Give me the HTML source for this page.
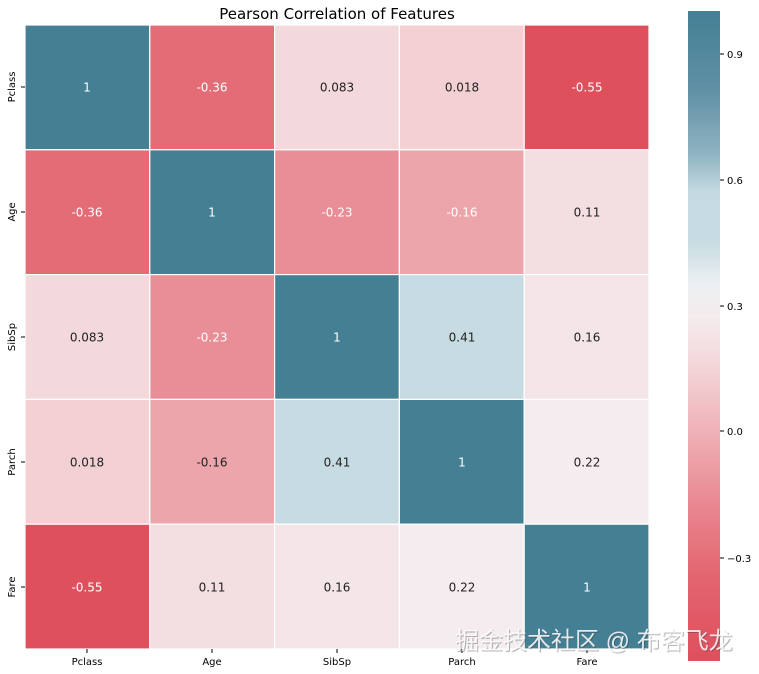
<!DOCTYPE html>
<html><head><meta charset="utf-8"><style>
html,body{margin:0;padding:0;background:#fff;}
svg{display:block;font-family:"DejaVu Sans","Liberation Sans",sans-serif;}
</style></head><body>
<svg width="759" height="674" viewBox="0 0 759 674" xmlns="http://www.w3.org/2000/svg">
<defs>
<linearGradient id="cb" x1="0" y1="1" x2="0" y2="0">
<stop offset="0" stop-color="#df4f5d"/>
<stop offset="0.13" stop-color="#e3656f"/>
<stop offset="0.25" stop-color="#e98a93"/>
<stop offset="0.35" stop-color="#eeb0b6"/>
<stop offset="0.45" stop-color="#f3d5d8"/>
<stop offset="0.53" stop-color="#f4eced"/>
<stop offset="0.58" stop-color="#ecf0f2"/>
<stop offset="0.65" stop-color="#c5dae1"/>
<stop offset="0.72" stop-color="#c5dae1"/>
<stop offset="0.78" stop-color="#8fb3c2"/>
<stop offset="0.88" stop-color="#5f90a4"/>
<stop offset="1" stop-color="#447f95"/>
</linearGradient>
</defs>
<text x="337" y="19" font-size="15" text-anchor="middle" fill="#000">Pearson Correlation of Features</text>
<g stroke="#fff" stroke-width="1.2">
<rect x="25" y="25" width="124.8" height="124.8" fill="#457f94"/>
<rect x="149.8" y="25" width="124.8" height="124.8" fill="#e36c77"/>
<rect x="274.6" y="25" width="124.8" height="124.8" fill="#f4d9dc"/>
<rect x="399.4" y="25" width="124.8" height="124.8" fill="#f2d0d3"/>
<rect x="524.2" y="25" width="124.8" height="124.8" fill="#df505d"/>
<rect x="25" y="149.8" width="124.8" height="124.8" fill="#e36c77"/>
<rect x="149.8" y="149.8" width="124.8" height="124.8" fill="#457f94"/>
<rect x="274.6" y="149.8" width="124.8" height="124.8" fill="#e98e97"/>
<rect x="399.4" y="149.8" width="124.8" height="124.8" fill="#eca5ab"/>
<rect x="524.2" y="149.8" width="124.8" height="124.8" fill="#f3dfe1"/>
<rect x="25" y="274.6" width="124.8" height="124.8" fill="#f4d9dc"/>
<rect x="149.8" y="274.6" width="124.8" height="124.8" fill="#e98e97"/>
<rect x="274.6" y="274.6" width="124.8" height="124.8" fill="#457f94"/>
<rect x="399.4" y="274.6" width="124.8" height="124.8" fill="#c7dbe2"/>
<rect x="524.2" y="274.6" width="124.8" height="124.8" fill="#f4e6e8"/>
<rect x="25" y="399.4" width="124.8" height="124.8" fill="#f2d0d3"/>
<rect x="149.8" y="399.4" width="124.8" height="124.8" fill="#eca5ab"/>
<rect x="274.6" y="399.4" width="124.8" height="124.8" fill="#c7dbe2"/>
<rect x="399.4" y="399.4" width="124.8" height="124.8" fill="#457f94"/>
<rect x="524.2" y="399.4" width="124.8" height="124.8" fill="#f4ecee"/>
<rect x="25" y="524.2" width="124.8" height="124.8" fill="#df505d"/>
<rect x="149.8" y="524.2" width="124.8" height="124.8" fill="#f3dfe1"/>
<rect x="274.6" y="524.2" width="124.8" height="124.8" fill="#f4e6e8"/>
<rect x="399.4" y="524.2" width="124.8" height="124.8" fill="#f4ecee"/>
<rect x="524.2" y="524.2" width="124.8" height="124.8" fill="#457f94"/>
</g>
<g font-size="12" text-anchor="middle">
<text x="87" y="91.5" fill="#fff">1</text>
<text x="212" y="91.5" fill="#fff">-0.36</text>
<text x="337" y="91.5" fill="#222">0.083</text>
<text x="462" y="91.5" fill="#222">0.018</text>
<text x="587" y="91.5" fill="#fff">-0.55</text>
<text x="87" y="216.5" fill="#fff">-0.36</text>
<text x="212" y="216.5" fill="#fff">1</text>
<text x="337" y="216.5" fill="#fff">-0.23</text>
<text x="462" y="216.5" fill="#fff">-0.16</text>
<text x="587" y="216.5" fill="#222">0.11</text>
<text x="87" y="341.5" fill="#222">0.083</text>
<text x="212" y="341.5" fill="#fff">-0.23</text>
<text x="337" y="341.5" fill="#fff">1</text>
<text x="462" y="341.5" fill="#222">0.41</text>
<text x="587" y="341.5" fill="#222">0.16</text>
<text x="87" y="466.5" fill="#222">0.018</text>
<text x="212" y="466.5" fill="#222">-0.16</text>
<text x="337" y="466.5" fill="#222">0.41</text>
<text x="462" y="466.5" fill="#fff">1</text>
<text x="587" y="466.5" fill="#222">0.22</text>
<text x="87" y="591.5" fill="#fff">-0.55</text>
<text x="212" y="591.5" fill="#222">0.11</text>
<text x="337" y="591.5" fill="#222">0.16</text>
<text x="462" y="591.5" fill="#222">0.22</text>
<text x="587" y="591.5" fill="#fff">1</text>
</g>
<g stroke="#000" stroke-width="1">
<line x1="21" y1="87" x2="25" y2="87"/><line x1="21" y1="212" x2="25" y2="212"/><line x1="21" y1="337" x2="25" y2="337"/><line x1="21" y1="462" x2="25" y2="462"/><line x1="21" y1="587" x2="25" y2="587"/>
<line x1="87" y1="649" x2="87" y2="653"/><line x1="212" y1="649" x2="212" y2="653"/><line x1="337" y1="649" x2="337" y2="653"/><line x1="462" y1="649" x2="462" y2="653"/><line x1="587" y1="649" x2="587" y2="653"/>
</g>
<g font-size="10" fill="#000" text-anchor="middle">
<text transform="translate(15,87) rotate(-90)">Pclass</text>
<text transform="translate(15,212) rotate(-90)">Age</text>
<text transform="translate(15,337) rotate(-90)">SibSp</text>
<text transform="translate(15,462) rotate(-90)">Parch</text>
<text transform="translate(15,587) rotate(-90)">Fare</text>
<text x="87" y="665">Pclass</text>
<text x="212" y="665">Age</text>
<text x="337" y="665">SibSp</text>
<text x="462" y="665">Parch</text>
<text x="587" y="665">Fare</text>
</g>
<rect x="688" y="11" width="32" height="650" fill="url(#cb)"/>
<g stroke="#000" stroke-width="1">
<line x1="720" y1="54" x2="724" y2="54"/><line x1="720" y1="180" x2="724" y2="180"/><line x1="720" y1="306" x2="724" y2="306"/><line x1="720" y1="431" x2="724" y2="431"/><line x1="720" y1="558" x2="724" y2="558"/>
</g>
<g font-size="10" fill="#000">
<text x="727" y="58">0.9</text>
<text x="727" y="184">0.6</text>
<text x="727" y="310">0.3</text>
<text x="727" y="435">0.0</text>
<text x="727" y="562">−0.3</text>
</g>
<text x="456" y="650" font-size="24" fill="#333" opacity="0.35" font-family="'Liberation Sans','Noto Sans CJK SC',sans-serif">掘金技术社区 @ 布客飞龙</text>
<text x="455" y="649" font-size="24" fill="#fff" opacity="0.85" font-family="'Liberation Sans','Noto Sans CJK SC',sans-serif">掘金技术社区 @ 布客飞龙</text>
</svg>
</body></html>
